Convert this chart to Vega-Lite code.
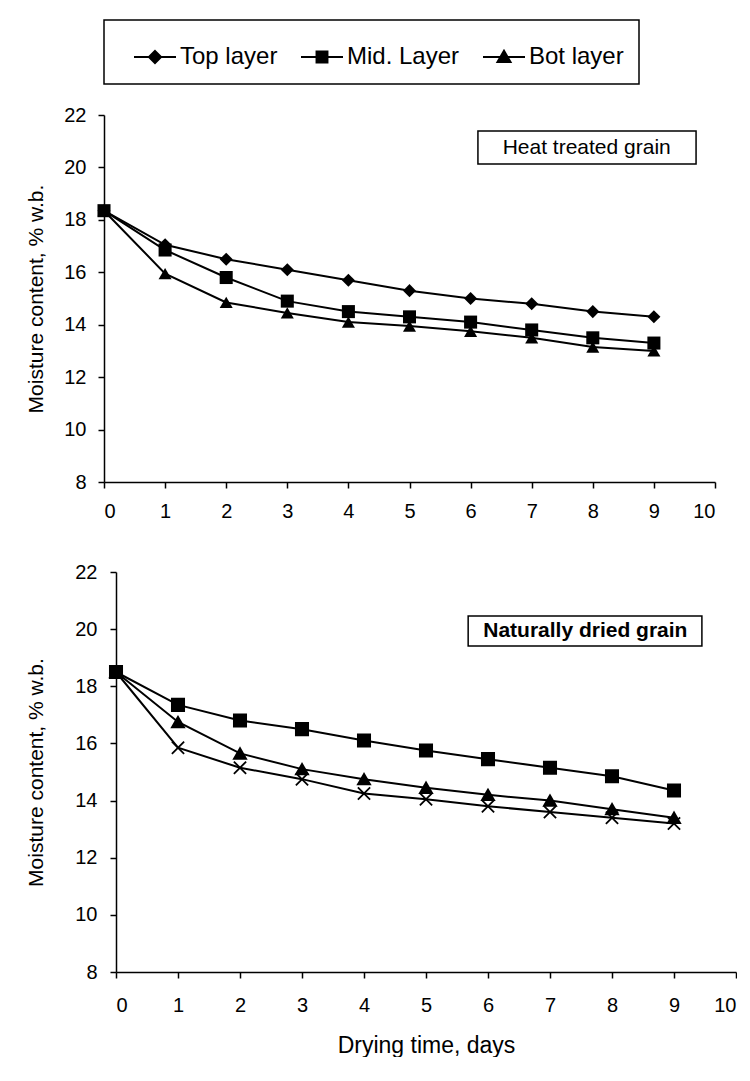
{
  "$schema": "https://vega.github.io/schema/vega-lite/v6.json",
  "padding": {"left": 25, "top": 19, "right": 0, "bottom": 0},
  "background": "white",
  "spacing": 41,
  "datasets": {
    "heat": [
      {"day": 0, "layer": "Top layer", "mc": 18.35}, {"day": 1, "layer": "Top layer", "mc": 17.05}, {"day": 2, "layer": "Top layer", "mc": 16.5}, {"day": 3, "layer": "Top layer", "mc": 16.1}, {"day": 4, "layer": "Top layer", "mc": 15.7}, {"day": 5, "layer": "Top layer", "mc": 15.3}, {"day": 6, "layer": "Top layer", "mc": 15.0}, {"day": 7, "layer": "Top layer", "mc": 14.8}, {"day": 8, "layer": "Top layer", "mc": 14.5}, {"day": 9, "layer": "Top layer", "mc": 14.3},
      {"day": 0, "layer": "Mid. Layer", "mc": 18.35}, {"day": 1, "layer": "Mid. Layer", "mc": 16.85}, {"day": 2, "layer": "Mid. Layer", "mc": 15.8}, {"day": 3, "layer": "Mid. Layer", "mc": 14.9}, {"day": 4, "layer": "Mid. Layer", "mc": 14.5}, {"day": 5, "layer": "Mid. Layer", "mc": 14.3}, {"day": 6, "layer": "Mid. Layer", "mc": 14.1}, {"day": 7, "layer": "Mid. Layer", "mc": 13.8}, {"day": 8, "layer": "Mid. Layer", "mc": 13.5}, {"day": 9, "layer": "Mid. Layer", "mc": 13.3},
      {"day": 0, "layer": "Bot layer", "mc": 18.35}, {"day": 1, "layer": "Bot layer", "mc": 15.95}, {"day": 2, "layer": "Bot layer", "mc": 14.85}, {"day": 3, "layer": "Bot layer", "mc": 14.45}, {"day": 4, "layer": "Bot layer", "mc": 14.1}, {"day": 5, "layer": "Bot layer", "mc": 13.95}, {"day": 6, "layer": "Bot layer", "mc": 13.75}, {"day": 7, "layer": "Bot layer", "mc": 13.5}, {"day": 8, "layer": "Bot layer", "mc": 13.15}, {"day": 9, "layer": "Bot layer", "mc": 13.0}
    ],
    "natural": [
      {"day": 0, "layer": "Top layer", "mc": 18.5}, {"day": 1, "layer": "Top layer", "mc": 17.35}, {"day": 2, "layer": "Top layer", "mc": 16.8}, {"day": 3, "layer": "Top layer", "mc": 16.5}, {"day": 4, "layer": "Top layer", "mc": 16.1}, {"day": 5, "layer": "Top layer", "mc": 15.75}, {"day": 6, "layer": "Top layer", "mc": 15.45}, {"day": 7, "layer": "Top layer", "mc": 15.15}, {"day": 8, "layer": "Top layer", "mc": 14.85}, {"day": 9, "layer": "Top layer", "mc": 14.35},
      {"day": 0, "layer": "Mid. Layer", "mc": 18.5}, {"day": 1, "layer": "Mid. Layer", "mc": 16.75}, {"day": 2, "layer": "Mid. Layer", "mc": 15.65}, {"day": 3, "layer": "Mid. Layer", "mc": 15.1}, {"day": 4, "layer": "Mid. Layer", "mc": 14.75}, {"day": 5, "layer": "Mid. Layer", "mc": 14.45}, {"day": 6, "layer": "Mid. Layer", "mc": 14.2}, {"day": 7, "layer": "Mid. Layer", "mc": 14.0}, {"day": 8, "layer": "Mid. Layer", "mc": 13.7}, {"day": 9, "layer": "Mid. Layer", "mc": 13.4},
      {"day": 0, "layer": "Bot layer", "mc": 18.5}, {"day": 1, "layer": "Bot layer", "mc": 15.85}, {"day": 2, "layer": "Bot layer", "mc": 15.15}, {"day": 3, "layer": "Bot layer", "mc": 14.75}, {"day": 4, "layer": "Bot layer", "mc": 14.25}, {"day": 5, "layer": "Bot layer", "mc": 14.05}, {"day": 6, "layer": "Bot layer", "mc": 13.8}, {"day": 7, "layer": "Bot layer", "mc": 13.6}, {"day": 8, "layer": "Bot layer", "mc": 13.4}, {"day": 9, "layer": "Bot layer", "mc": 13.2}
    ]
  },
  "vconcat": [
    {
      "width": 611,
      "height": 367,
      "layer": [
        {"data": {"name": "heat"},
         "mark": {"type": "line", "strokeWidth": 2},
         "encoding": {
           "x": {"field": "day", "type": "quantitative", "scale": {"domain": [0, 10], "nice": false},
                 "axis": {"title": null, "values": [0,1,2,3,4,5,6,7,8,9,10], "labelPadding": 13, "format": "d"}},
           "y": {"field": "mc", "type": "quantitative", "scale": {"domain": [8, 22], "nice": false, "zero": false},
                 "axis": {"title": "Moisture content, % w.b.", "values": [8,10,12,14,16,18,20,22], "labelPadding": 12, "titlePadding": 17}},
           "color": {"field": "layer", "type": "nominal",
             "scale": {"domain": ["Top layer", "Mid. Layer", "Bot layer"], "range": ["#000000", "#000000", "#000000"]},
             "legend": {"title": null, "orient": "top", "direction": "horizontal", "offset": 31,
                        "strokeColor": "black", "padding": 15, "columnPadding": 8, "labelOffset": 3, "symbolOffset": 14,
                        "labelFontSize": 24, "labelColor": "black", "labelFont": "Liberation Sans",
                        "symbolSize": 1764, "symbolStrokeWidth": 2, "symbolStrokeColor": "black", "symbolFillColor": "black",
                        "encode": {"legend": {"update": {"strokeWidth": {"value": 1.5}}},
                                   "symbols": {"update": {"fill": {"value": "black"},
                                     "shape": {"signal": "datum.value === 'Top layer' ? 'M-1,0H1M0,-0.29L0.29,0L0,0.29L-0.29,0Z' : datum.value === 'Mid. Layer' ? 'M-1,0H1M-0.26,-0.26H0.26V0.26H-0.26Z' : 'M-1,0H1M0,-0.3L0.31,0.24H-0.31Z'"}}}}}}}},
        {"data": {"name": "heat"},
         "mark": {"type": "point", "filled": true, "color": "black", "opacity": 1, "size": 170},
         "encoding": {
           "x": {"field": "day", "type": "quantitative"},
           "y": {"field": "mc", "type": "quantitative"},
           "shape": {"field": "layer", "type": "nominal",
            "scale": {"range": ["triangle-up", "square", "diamond"]},
            "legend": null}}},
        {"data": {"values": [{"label": "Heat treated grain"}]},
         "mark": {"type": "rect", "fill": "white", "stroke": "black", "strokeWidth": 1.5},
         "encoding": {"x": {"datum": 6.12, "type": "quantitative"}, "x2": {"datum": 9.69},
                      "y": {"datum": 21.39, "type": "quantitative"}, "y2": {"datum": 20.13}}},
        {"data": {"values": [{"label": "Heat treated grain"}]},
         "mark": {"type": "text", "fontSize": 21, "color": "black", "align": "center", "baseline": "middle"},
         "encoding": {"x": {"datum": 7.9, "type": "quantitative"},
                      "y": {"datum": 20.76, "type": "quantitative"},
                      "text": {"field": "label"}}}
      ]
    },
    {
      "width": 632,
      "height": 400,
      "layer": [
        {"data": {"name": "natural"},
         "mark": {"type": "line", "color": "black", "strokeWidth": 2},
         "encoding": {
           "x": {"field": "day", "type": "quantitative", "scale": {"domain": [0, 10], "nice": false, "range": [12, 632]},
                 "axis": {"title": "Drying time, days", "titleFontSize": 23, "titlePadding": 19, "values": [0,1,2,3,4,5,6,7,8,9,10], "labelPadding": 17, "format": "d"}},
           "y": {"field": "mc", "type": "quantitative", "scale": {"domain": [8, 22], "nice": false, "zero": false},
                 "axis": {"title": "Moisture content, % w.b.", "values": [8,10,12,14,16,18,20,22], "labelPadding": 13, "titlePadding": 28, "offset": -12}},
           "detail": {"field": "layer"}}},
        {"data": {"name": "natural"},
         "mark": {"type": "point", "filled": true, "color": "black", "stroke": "black", "strokeWidth": 1.8, "opacity": 1, "size": 150},
         "encoding": {
           "x": {"field": "day", "type": "quantitative"},
           "y": {"field": "mc", "type": "quantitative"},
           "shape": {"field": "layer", "type": "nominal",
            "scale": {"domain": ["Top layer", "Mid. Layer", "Bot layer"], "range": ["square", "triangle-up", "M-1,-1L1,1M-1,1L1,-1"]}, "legend": null}}},
        {"data": {"values": [{"label": "Naturally dried grain"}]},
         "mark": {"type": "rect", "fill": "white", "stroke": "black", "strokeWidth": 1.5},
         "encoding": {"x": {"datum": 5.68, "type": "quantitative"}, "x2": {"datum": 9.45},
                      "y": {"datum": 20.46, "type": "quantitative"}, "y2": {"datum": 19.41}}},
        {"data": {"values": [{"label": "Naturally dried grain"}]},
         "mark": {"type": "text", "fontSize": 21, "fontWeight": "bold", "color": "black", "align": "center", "baseline": "middle"},
         "encoding": {"x": {"datum": 7.57, "type": "quantitative"},
                      "y": {"datum": 19.93, "type": "quantitative"},
                      "text": {"field": "label"}}}
      ]
    }
  ],
  "resolve": {"scale": {"shape": "independent", "color": "independent", "x": "independent"}, "legend": {"shape": "independent"}},
  "config": {
    "font": "Liberation Sans",
    "view": {"stroke": null},
    "axis": {"grid": false, "domainColor": "#000", "domainWidth": 1.5, "tickColor": "#000", "tickWidth": 1.5, "tickSize": 6,
             "labelColor": "#000", "labelFontSize": 20, "labelFont": "Liberation Sans",
             "titleColor": "#000", "titleFontSize": 21, "titleFontWeight": "normal", "titleFont": "Liberation Sans"}
  }
}
